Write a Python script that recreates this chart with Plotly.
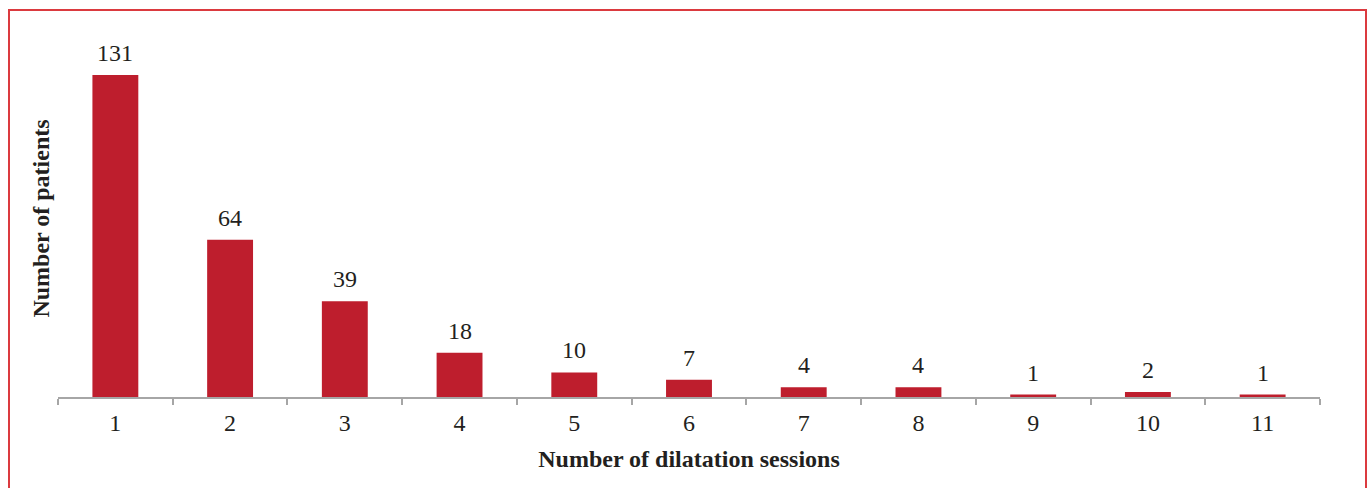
import plotly.graph_objects as go

sessions = ["1", "2", "3", "4", "5", "6", "7", "8", "9", "10", "11"]
patients = [131, 64, 39, 18, 10, 7, 4, 4, 1, 2, 1]

W, H = 1370, 488
L, R, T, B = 58, 50, 40, 91
pw, ph = W - L - R, H - T - B

def px(x):
    return (x - L) / pw

def py(y):
    return (H - B - y) / ph

FONT = "Liberation Serif"

fig = go.Figure(go.Bar(
    x=sessions, y=patients,
    marker=dict(color="#BE1E2D", line=dict(width=0)),
    width=0.4,
    cliponaxis=False,
))

# category axis: annotations are placed by category index
for i, v in enumerate(patients):
    fig.add_annotation(
        x=i, y=v, xref="x", yref="y", text=str(v),
        showarrow=False, yanchor="bottom", yshift=7,
        font=dict(family=FONT, size=24, color="#231F20"),
    )

fig.update_layout(
    width=W, height=H,
    margin=dict(l=L, r=R, t=T, b=B),
    plot_bgcolor="white", paper_bgcolor="white",
    font=dict(family=FONT, color="#231F20"),
    showlegend=False,
    xaxis=dict(
        type="category",
        categoryorder="array", categoryarray=sessions,
        showline=True, linecolor="#A6A6A6", linewidth=1.5,
        ticks="outside", tickson="boundaries", ticklen=6,
        tickcolor="#A6A6A6", tickwidth=1.5,
        ticklabelstandoff=3,
        tickfont=dict(family=FONT, size=24, color="#231F20"),
        showgrid=False,
        title=dict(text="<b>Number of dilatation sessions</b>",
                   font=dict(family=FONT, size=24, color="#231F20"),
                   standoff=16),
    ),
    yaxis=dict(
        range=[0, ph / 2.458],
        showline=False, showticklabels=False, ticks="",
        showgrid=False, zeroline=False,
        title=dict(text="<b>Number of patients</b>",
                   font=dict(family=FONT, size=24, color="#231F20"),
                   standoff=0),
    ),
    shapes=[dict(
        type="rect", xref="paper", yref="paper",
        x0=px(9), x1=px(1366), y0=py(10), y1=py(520),
        line=dict(color="#DB3A3F", width=2),
        fillcolor="rgba(0,0,0,0)", layer="above",
    )],
)

fig.write_html("out.html", config={"displayModeBar": False})

with open("out.html", "r", encoding="utf-8") as f:
    html = f.read()
html = html.replace("<body>", '<body style="margin:0;padding:0;overflow:hidden">', 1)
with open("out.html", "w", encoding="utf-8") as f:
    f.write(html)
